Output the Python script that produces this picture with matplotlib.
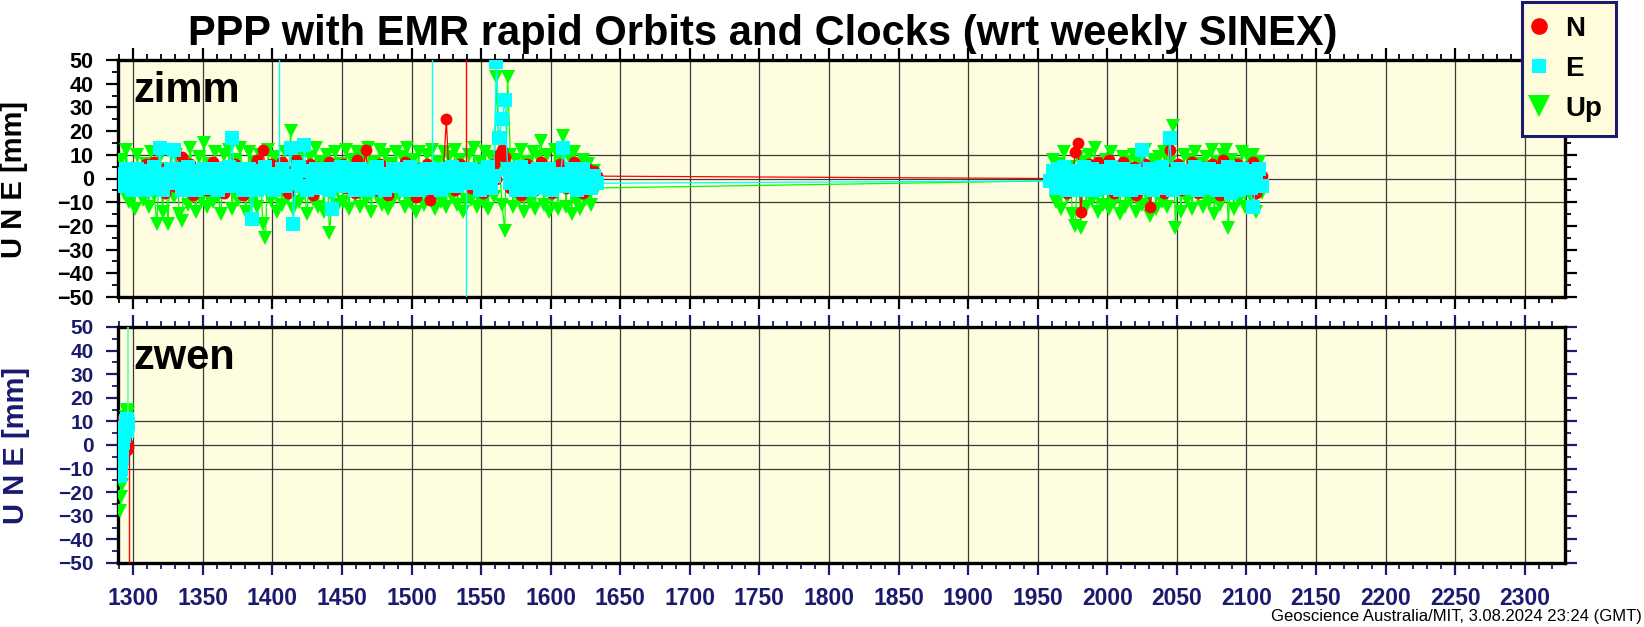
import numpy as np
import matplotlib
matplotlib.use('Agg')
import matplotlib.pyplot as plt
from matplotlib.lines import Line2D
from matplotlib.ticker import MultipleLocator

plt.rcParams['font.family'] = ['Liberation Sans', 'DejaVu Sans']

RED = '#ff0000'
CYAN = '#00ffff'
GREEN = '#00ff00'
NAVY = '#1a1a6e'
BG = '#fefde0'

# zimm: GPS weeks of the solutions, two blocks of data
zimm_wk_a = np.arange(1291, 1635, 2)
zimm_wk_b = np.arange(1959, 2113, 2)

# residuals in mm (N, E, Up)
zimm_n_a = [1, -3, 4, -2, 5, 0, -5, 3, -1, 6,
            -4, 2, 7, -2, 0, 4, -6, 3, 1, -3,
            5, -1, 9, 2, -4, 6, -7, 1, 3, -2,
            4, -5, 2, 7, -3, 0, 5, -6, 3, -1,
            2, 6, -4, 1, -7, 3, 0, 5, -2, 8,
            -3, 12, 4, -1, 6, -5, 2, -3, 7, 0,
            -6, 3, 1, 8, -2, 4, -4, 0, 6, -7,
            2, 5, -1, 3, -5, 7, 0, -3, 4, -2,
            6, -4, 1, 3, -6, 8, -1, 2, 12, -3,
            4, 0, -5, 6, -2, 3, -7, 1, 5, -1,
            2, -4, 7, 0, -3, 5, -8, 3, 1, -2,
            6, -9, 2, 4, -3, 0, 5, 25, -1, 3,
            -5, 2, 6, -2, 2, 1, -4, 5, 0, 3,
            -6, 4, 1, -3, 6, 0, 10, 12, 9, 2,
            -4, 5, -2, 3, -7, 1, 6, -1, 4, -5,
            2, 7, -3, 0, 5, -6, 3, -2, 6, 1,
            -4, 3, 0, 7, -3, 5, -6, 2, 4, -2,
            3, 1]
zimm_e_a = [2, -3, 4, -1, -5, 1, 4, -2, 0, -5,
            3, -1, 5, -4, 13, -5, 2, -1, 4, 12,
            -2, 4, -5, 1, 5, -3, 0, -5, 3, 1,
            4, -4, 1, -2, 4, -5, 2, -3, 1, 5,
            17, -3, 4, -1, -5, 1, 4, -17, 0, -5,
            3, -2, 5, -4, 1, -5, 2, -1, 4, -3,
            -2, 13, -19, 1, 5, -3, 14, -5, 3, 0,
            4, -4, 1, -2, 4, -5, -13, -3, 2, 5,
            2, -3, 4, -1, -5, 1, 4, -2, 0, -5,
            3, -2, 5, -4, 1, -5, 2, -1, 4, -3,
            -2, 4, -5, 1, 5, -3, 0, -5, 3, 1,
            4, -4, 2, -2, 4, -5, 2, -3, 1, 5,
            2, -3, 4, -1, -2, 1, 4, -2, 0, -5,
            3, -2, 5, -4, 1, 49, 17, 25, 33, 4,
            -2, 4, -5, 1, 5, -3, 0, -5, 3, 1,
            4, -4, 1, -2, 4, -5, 2, -3, 1, 13,
            2, -3, 4, -1, -5, 1, 4, -2, 0, -4,
            1, -2]
zimm_u_a = [8, -6, 12, -10, 3, -13, 10, -4, -9, 6,
            -12, 11, -7, -19, 9, -14, 4, -19, 12, -8,
            10, -15, -18, 7, -11, 13, -5, -14, 9, -9,
            15, -12, 6, -10, 11, -8, -15, 10, -6, 12,
            -13, 8, -9, 13, -4, -14, 11, -10, 7, -12,
            10, -19, -25, 12, -9, 9, -14, 6, -11, 11,
            -8, 20, -13, 10, -10, 12, -6, -15, 9, -9,
            13, -12, 7, -14, 10, -23, -8, 11, -11, 6,
            -10, 12, -13, 8, -7, 11, -12, 9, -9, 13,
            -14, 7, -8, 12, -11, 10, -13, 6, -9, 11,
            -7, 9, -12, 13, -10, 8, -14, 11, -6, -11,
            10, -9, 12, -13, 7, -10, 11, -12, 9, -8,
            12, -11, 8, -14, -9, 10, -9, 13, -12, 7,
            -10, 11, -13, 9, -8, 43, 6, -11, -22, 43,
            10, -12, 8, -9, 12, -14, 7, -10, 11, -13,
            9, 16, -11, 10, -14, -8, 12, -13, 7, 18,
            -12, 9, -15, 11, -10, -13, 8, -9, 6, -11,
            3, -4]

zimm_n_b = [0, 2, -3, 4, -1, 5, -6, 3, 1, 11,
            15, -14, 2, -3, 6, 0, -5, 7, -2, 3,
            -4, 8, 1, -6, 4, -2, 7, -5, 2, 0,
            5, -7, 3, -1, 6, -4, -12, 2, 5, -3,
            1, -6, 4, 12, 3, -2, 6, -5, 0, 4,
            -3, 7, 1, -6, 2, 5, -4, 0, 6, -2,
            3, -7, 8, 1, -5, 4, -2, 6, -3, 0,
            5, -4, 2, 7, -6, 3, 1]
zimm_e_b = [-1, 3, -4, 4, -2, 5, -5, 1, 3, -4,
            2, -5, 5, -3, 0, 4, -5, 2, -1, 3,
            -4, 1, 5, -3, 1, -5, 4, -2, 2, -5,
            3, 0, -3, 12, -4, 2, 4, -5, 1, -2,
            5, -4, 2, 17, -5, 0, 4, -3, 2, -4,
            3, -1, 5, -5, 1, 3, -4, 4, -2, 0,
            -5, 3, 2, -4, 5, -6, 1, 2, -5, 4,
            -2, 3, -4, -12, 2, 4, -3]
zimm_u_b = [-1, 8, -10, 6, -13, 11, -8, 5, -15, -20,
            9, -21, 7, -12, 10, -9, 13, -14, 6, -11,
            8, -13, 11, -10, 5, -15, 9, -12, 7, -9,
            10, -14, 6, -11, 12, -8, -16, 8, -13, 9,
            -10, 11, -12, 7, 22, -21, 5, -14, 10, -9,
            8, -13, 11, -7, 6, -12, 9, -10, 12, -15,
            7, -11, 10, 12, -21, 8, -13, 6, -9, 11,
            -12, 9, -8, 10, -14, 7, -6]

# off-scale outliers (week, value) -> drawn as lines leaving the frame
zimm_e_out_wk = [1405, 1515, 1539]
zimm_e_out = [90, 90, -90]
zimm_n_out_wk = [1539]
zimm_n_out = [90]

# zwen: only a few weeks of data at the start
zwen_wk = [1290.4, 1291.0, 1291.6, 1292.2, 1292.8, 1293.4,
           1294.0, 1294.6, 1295.2, 1295.8, 1296.4]
zwen_n = [10, 7, 3, 0, -3, 5, 8, 4, 1, -2, -1]
zwen_e = [-13, -10, -6, -3, 1, 4, 7, 10, 11, 6, 9]
zwen_u = [-28, -22, -17, -11, -5, 2, 8, 12, 15, 14, 13]
zwen_e_out_wk = [1296.2]
zwen_e_out = [90]
zwen_n_out_wk = [1297.0]
zwen_n_out = [-90]

zimm_wk = np.concatenate([zimm_wk_a, zimm_wk_b])
zimm_n = np.array(zimm_n_a + zimm_n_b)
zimm_e = np.array(zimm_e_a + zimm_e_b)
zimm_u = np.array(zimm_u_a + zimm_u_b)

W, H = 1644, 627
fig = plt.figure(figsize=(W / 100, H / 100), dpi=100)
ax1 = fig.add_axes([118 / W, 1 - 297 / H, 1447 / W, 237 / H])
ax2 = fig.add_axes([118 / W, 1 - 563 / H, 1447 / W, 236 / H])


def panel(ax, wk, n, e, u, name, col, ylab_size):
    ax.set_facecolor(BG)
    ax.plot(wk, u, color=GREEN, lw=0.9, marker='v', ms=10, mew=0, zorder=3)
    ax.plot(wk, n, color=RED, lw=0.9, marker='o', ms=8.5, mew=0, zorder=4)
    ax.plot(wk, e, color=CYAN, lw=0.9, marker='s', ms=9.5, mew=0, zorder=5)
    ax.set_xlim(1289, 2329)
    ax.set_ylim(-50, 50)
    ax.xaxis.set_major_locator(MultipleLocator(50))
    ax.xaxis.set_minor_locator(MultipleLocator(10))
    ax.yaxis.set_major_locator(MultipleLocator(10))
    ax.yaxis.set_minor_locator(MultipleLocator(5))
    ax.grid(axis='x', which='major', color='#3a3a3a', lw=0.9, zorder=1)
    for y in (-10, 0, 10):
        ax.axhline(y, color='#3a3a3a', lw=0.9, zorder=1)
    ax.set_axisbelow(True)
    ax.tick_params(which='both', direction='out', top=True, right=True,
                   colors=col)
    ax.tick_params(which='major', length=8.5, width=1.6)
    ax.tick_params(which='minor', length=4.5, width=1.3)
    ax.tick_params(axis='y', pad=9, labelsize=ylab_size)
    ax.tick_params(axis='x', pad=9, labelsize=16.5)
    for lab in ax.get_xticklabels() + ax.get_yticklabels():
        lab.set_fontweight('bold')
    for s in ax.spines.values():
        s.set_linewidth(2.4)
        s.set_color('black')
    ax.text(0.0104, 0.823, name, transform=ax.transAxes, fontsize=30,
            fontweight='bold', va='baseline', ha='left', zorder=6)


panel(ax1, zimm_wk, zimm_n, zimm_e, zimm_u, 'zimm', 'black', 15.5)
panel(ax2, zwen_wk, zwen_n, zwen_e, zwen_u, 'zwen', NAVY, 15)
ax1.tick_params(labelbottom=False)

# outliers: lines from the cluster to the off-scale value
ax1.vlines(zimm_e_out_wk, 0, zimm_e_out, color=CYAN, lw=1.0, zorder=4.5)
ax1.vlines(zimm_n_out_wk, 0, zimm_n_out, color=RED, lw=1.0, zorder=4.5)
ax2.vlines(zwen_e_out_wk, 12, zwen_e_out, color='#60ffb0', lw=1.2, zorder=4.5)
ax2.vlines(zwen_n_out_wk, -1, zwen_n_out, color=RED, lw=1.0, zorder=4.5)

fig.text(14 / W, 1 - 179 / H, 'U N E [mm]', rotation=90, fontsize=21,
         fontweight='bold', ha='center', va='center')
fig.text(16 / W, 1 - 445 / H, 'U N E [mm]', rotation=90, fontsize=21,
         fontweight='bold', ha='center', va='center', color=NAVY)

fig.text(763 / W, 1 - 34 / H,
         'PPP with EMR rapid Orbits and Clocks (wrt weekly SINEX)',
         fontsize=30, fontweight='bold', ha='center', va='center')

fig.text(0.999, 1 - 617 / H,
         'Geoscience Australia/MIT, 3.08.2024 23:24 (GMT)',
         fontsize=12, ha='right', va='center')

handles = [Line2D([], [], ls='none', marker='o', ms=12, color=RED, mew=0),
           Line2D([], [], ls='none', marker='s', ms=10, color=CYAN, mew=0),
           Line2D([], [], ls='none', marker='v', ms=16, color=GREEN, mew=0)]
leg = fig.legend(handles, ['N', 'E', 'Up'], loc='upper left',
                 bbox_to_anchor=(1522 / W, 1 - 2 / H),
                 prop={'size': 20, 'weight': 'bold'},
                 frameon=True, fancybox=False, framealpha=1,
                 facecolor='#fffcdc', edgecolor=NAVY,
                 borderpad=0.5, labelspacing=0.5, handlelength=0.25,
                 handletextpad=0.8, borderaxespad=0)
leg.get_frame().set_linewidth(2.2)
leg.set_zorder(10)

fig.savefig('out.png', dpi=100)
